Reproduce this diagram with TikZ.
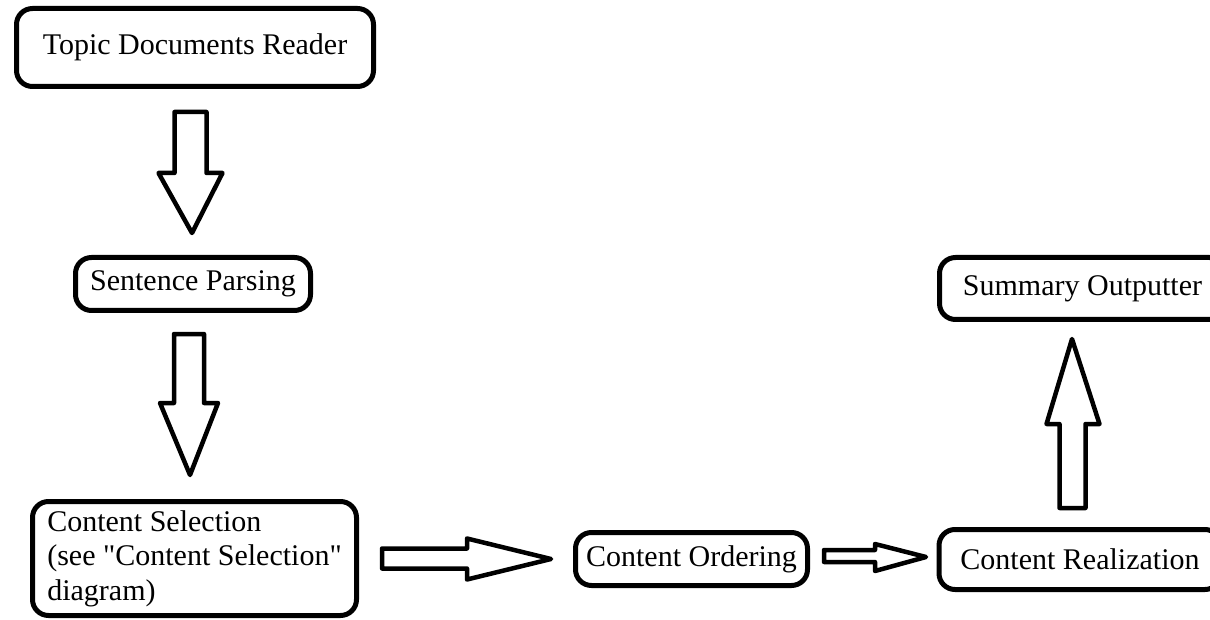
\documentclass[tikz,border=0pt]{standalone}
\usepackage{fontspec}
\setmainfont{Liberation Serif}[Ligatures=TeXOff]
\usetikzlibrary{calc}
\begin{document}
\begin{tikzpicture}[x=1pt,y=-1pt]
\tikzset{
  procbox/.style={draw=black, line width=5pt, rounded corners=16pt, fill=white,
    inner sep=0pt, font=\fontsize{30}{34.5}\selectfont, text=black},
  blockarrow/.style={draw=black, line width=4.5pt, line join=round, fill=white}
}
\path[use as bounding box] (0,0) rectangle (1210,620);
\clip (0,0) rectangle (1210,620);
\fill[white] (0,0) rectangle (1210,620);

% boxes
\node[procbox, minimum width=357pt, minimum height=78pt] (tdr) at (195,47.5) {Topic Documents Reader};
\node[procbox, minimum width=235pt, minimum height=53pt] (sp) at (193,284) {Sentence Parsing};
\node[procbox, minimum width=324pt, minimum height=114pt, align=left] (cs) at (194.5,558.5)
  {Content Selection\\(see "Content Selection"\\diagram)};
\node[procbox, minimum width=232pt, minimum height=53pt] (co) at (691.5,559) {Content Ordering};
\node[procbox, minimum width=282pt, minimum height=60pt] (cr) at (1080,559.5) {Content Realization};
\node[procbox, minimum width=286pt, minimum height=62pt] (so) at (1082.5,288.5) {Summary Outputter};

% arrow anchor coordinates
\coordinate (a1s) at (190.5,112);
\coordinate (a1t) at (192,233);
\coordinate (a2s) at (189,334);
\coordinate (a2t) at (190,475);
\coordinate (a3s) at (382,558.5);
\coordinate (a3t) at (551,559);
\coordinate (a4s) at (824,556);
\coordinate (a4t) at (926,557);
\coordinate (a5s) at (1072.5,508);
\coordinate (a5t) at (1072,339);

% arrow 1: tdr -> sp
\draw[blockarrow] ($(a1s)+(-16,0)$) -- ($(a1s)+(16,0)$) -- ($(a1s)+(16,61)$) -- ($(a1s)+(32,61)$)
  -- (a1t) -- ($(a1s)+(-32,61)$) -- ($(a1s)+(-16,61)$) -- cycle;
% arrow 2: sp -> cs
\draw[blockarrow] ($(a2s)+(-15,0)$) -- ($(a2s)+(15,0)$) -- ($(a2s)+(15,69)$) -- ($(a2s)+(29,69)$)
  -- (a2t) -- ($(a2s)+(-29,69)$) -- ($(a2s)+(-15,69)$) -- cycle;
% arrow 3: cs -> co
\draw[blockarrow] ($(a3s)+(0,-10)$) -- ($(a3s)+(85,-10)$) -- ($(a3s)+(85,-20)$)
  -- (a3t) -- ($(a3s)+(85,21)$) -- ($(a3s)+(85,10)$) -- ($(a3s)+(0,10)$) -- cycle;
% arrow 4: co -> cr
\draw[blockarrow] ($(a4s)+(0,-6)$) -- ($(a4s)+(51,-6)$) -- ($(a4s)+(51,-12)$)
  -- (a4t) -- ($(a4s)+(51,15)$) -- ($(a4s)+(51,6)$) -- ($(a4s)+(0,6)$) -- cycle;
% arrow 5: cr -> so
\draw[blockarrow] ($(a5s)+(-13,0)$) -- ($(a5s)+(13,0)$) -- ($(a5s)+(13,-84)$) -- ($(a5s)+(27,-84)$)
  -- (a5t) -- ($(a5s)+(-26,-84)$) -- ($(a5s)+(-13,-84)$) -- cycle;
\end{tikzpicture}
\end{document}
